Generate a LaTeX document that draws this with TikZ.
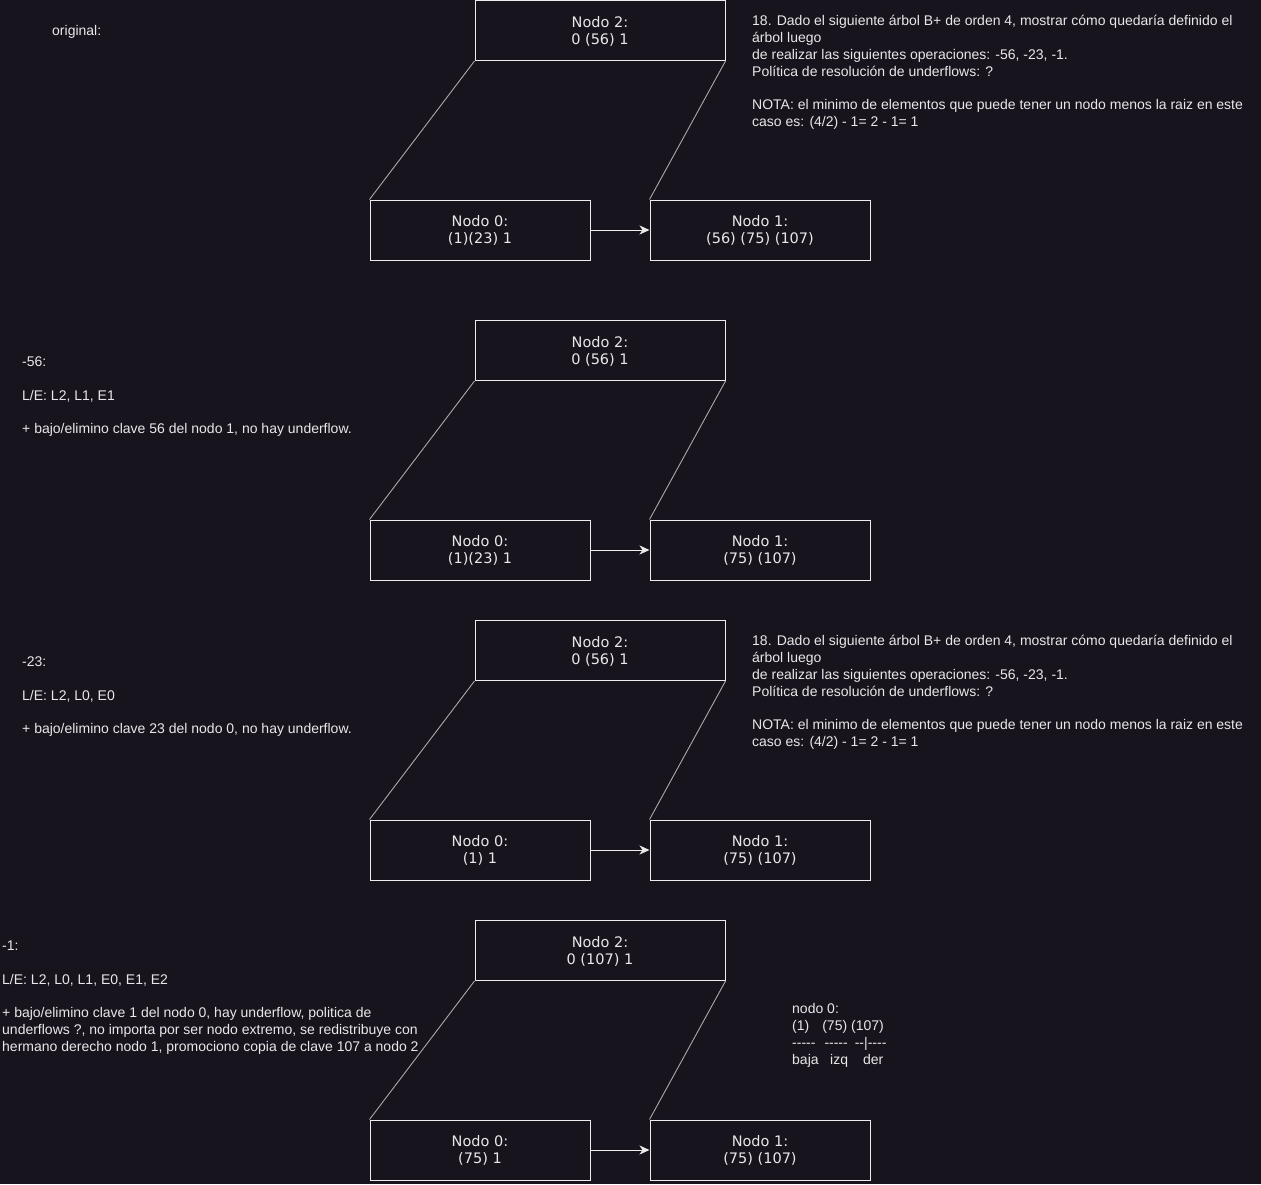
\documentclass[tikz,border=0pt]{standalone}
\usepackage{fontspec}
\setmainfont{Liberation Sans}
\newfontfamily\nodofont{DejaVu Sans}
\usetikzlibrary{arrows.meta}

\definecolor{fondo}{RGB}{24,20,29}
\definecolor{texto}{RGB}{232,232,232}
\definecolor{borde}{RGB}{236,236,236}
\definecolor{rama}{RGB}{170,170,170}

\tikzset{
  caja/.style={draw=borde, line width=1pt, fill=fondo, text=texto,
    minimum height=60pt, inner sep=0pt, align=center,
    font=\nodofont\fontsize{14.5}{17}\selectfont},
  raiz/.style={caja, minimum width=250pt},
  hoja/.style={caja, minimum width=220pt},
  rama/.style={draw=rama, line width=0.9pt},
  enlace/.style={draw=borde, line width=1pt, -{Stealth[length=10pt,width=9pt,inset=3pt]}},
  nota/.style={anchor=north west, inner sep=0pt, align=left, text=texto,
    font=\fontsize{14}{16.8}\selectfont}
}

% one B+ tree: root over two linked leaves, drawn at vertical offset #1
\newcommand\arbol[5]{%
  \node[raiz] (#2r) at (600,30.5+#1) {\rule{0pt}{12pt}#3};
  \node[hoja] (#2a) at (480,230+#1) {\rule{0pt}{12pt}#4};
  \node[hoja] (#2b) at (760,230+#1) {\rule{0pt}{12pt}#5};
  \draw[rama] (#2r.south west) -- (#2a.north west);
  \draw[rama] (#2r.south east) -- (#2b.north west);
  \draw[enlace] (#2a) -- (#2b);
}

\newcommand\enunciado{\strut 18. Dado el siguiente árbol B+ de orden 4, mostrar cómo quedaría definido el\\
árbol luego\\
de realizar las siguientes operaciones: -56, -23, -1.\\
Política de resolución de underflows: ?\\
\\
NOTA: el minimo de elementos que puede tener un nodo menos la raiz en este\\
caso es: (4/2) - 1= 2 - 1= 1}

\begin{document}
\begin{tikzpicture}[x=1pt, y=-1pt]
  \fill[fondo] (0,0) rectangle (1261,1184);
  \useasboundingbox (0,0) rectangle (1261,1184);

  % original tree
  \arbol{0}{o}{Nodo 2:\\0 (56) 1}{Nodo 0:\\(1)(23) 1}{Nodo 1:\\(56) (75) (107)}
  \node[nota] (tit) at (52,23.5) {\strut original:};
  \node[nota] (enun1) at (752,13.9) {\enunciado};

  % after -56
  \arbol{320}{p}{Nodo 2:\\0 (56) 1}{Nodo 0:\\(1)(23) 1}{Nodo 1:\\(75) (107)}
  \node[nota] (op1) at (22,354.8) {\strut -56:\\ \\L/E: L2, L1, E1\\ \\+ bajo/elimino clave 56 del nodo 1, no hay underflow.};

  % after -23
  \arbol{620}{q}{Nodo 2:\\0 (56) 1}{Nodo 0:\\(1) 1}{Nodo 1:\\(75) (107)}
  \node[nota] (op2) at (22,654.8) {\strut -23:\\ \\L/E: L2, L0, E0\\ \\+ bajo/elimino clave 23 del nodo 0, no hay underflow.};
  \node[nota] (enun2) at (752,633.9) {\enunciado};

  % after -1
  \arbol{920}{s}{Nodo 2:\\0 (107) 1}{Nodo 0:\\(75) 1}{Nodo 1:\\(75) (107)}
  \node[nota] (op3) at (2,938.6) {\strut -1:\\ \\L/E: L2, L0, L1, E0, E1, E2\\ \\+ bajo/elimino clave 1 del nodo 0, hay underflow, politica de\\
underflows ?, no importa por ser nodo extremo, se redistribuye con\\
hermano derecho nodo 1, promociono copia de clave 107 a nodo 2};
  \node[nota] (redis) at (792,1001.8) {\strut nodo 0:\\
(1)\hspace{13pt}(75)\hspace{4pt}(107)\\
-{}-{}-{}-{}-\hspace{9pt}-{}-{}-{}-{}-\hspace{7pt}-{}-|-{}-{}-{}-\\
baja\hspace{11.5pt}izq\hspace{15pt}der};
\end{tikzpicture}
\end{document}
